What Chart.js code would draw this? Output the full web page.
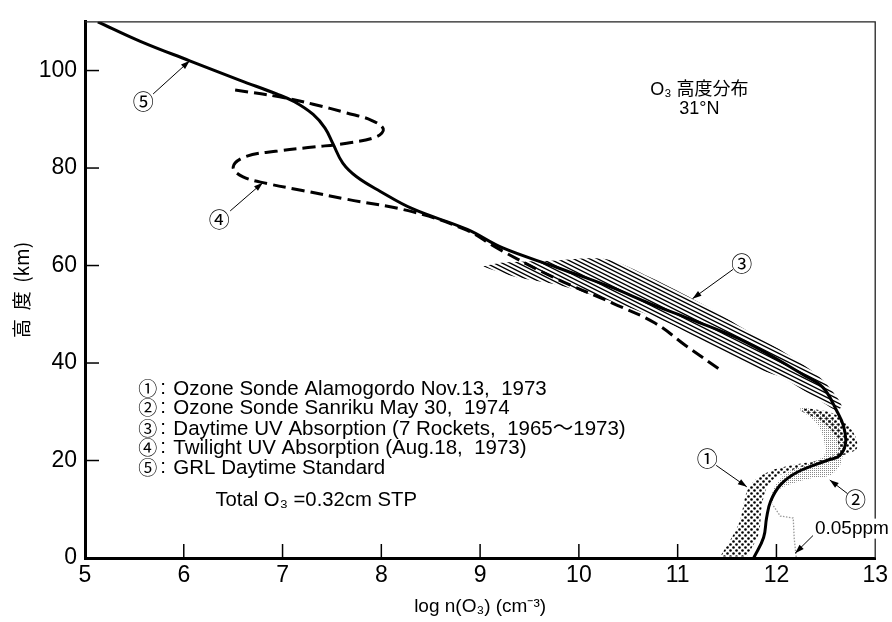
<!DOCTYPE html>
<html>
<head>
<meta charset="utf-8">
<script src="https://cdn.jsdelivr.net/npm/chart.js@4.4.1/dist/chart.umd.min.js"></script>
<style>
  html, body { margin: 0; padding: 0; background: #fff; }
  #wrap { width: 892px; height: 622px; }
</style>
</head>
<body>
<div id="wrap"><canvas id="ozone"></canvas></div>
<script>
const xTicks = [5, 6, 7, 8, 9, 10, 11, 12, 13];
const yTicks = [0, 20, 40, 60, 80, 100];

// [log n(O3), altitude km]
// (5) GRL daytime standard, joined to the mean rocket / sonde profile below
const grlStandard = [[5.13,110],[5.56,106],[6.06,102],[6.57,98],[6.94,95.2],[7.12,93.6],[7.31,91],[7.43,88.2],
  [7.51,85],[7.61,81],[7.75,78.2],[7.99,75.2],[8.32,71.6],[8.87,67.4],[9.23,63.6],[9.78,59.6],[10.32,55.6],
  [10.72,52.2],[11.13,49],[11.7,44.2],[12.27,37.6],[12.47,35],[12.61,30.2],[12.68,27],[12.7,23.6],[12.64,21],
  [12.51,20],[12.21,17.6],[12.04,15],[11.94,11.6],[11.9,8.2],[11.87,4.2],[11.77,0]];

// (4) twilight UV absorption
const twilightUV = [[6.52,96],[6.97,94.6],[7.31,93.1],[7.65,91.3],[7.9,89.8],[8.02,88],[7.95,86.4],[7.65,85.1],
  [7.31,84.3],[6.95,83.5],[6.62,82.3],[6.5,80.2],[6.6,78.2],[6.85,76.8],[7.2,75.4],[7.65,73.6],[8.32,71],
  [8.87,67.2],[9.17,63.6],[9.74,57.6],[10.35,52.2],[10.77,48.2],[11.08,43.6],[11.46,38.2]];

// (3) daytime UV absorption spread, outline of the hatched band
const rocketBand = [[9.03,59.8],[9.23,60.6],[9.71,61],[10.28,61.3],[10.72,57.6],[11.23,52.3],[11.73,46.3],
  [12.07,42.3],[12.41,37.6],[12.54,34.9],[12.66,31.3],[12.61,30.3],[12.44,32.3],[12.07,36.9],[11.8,38.9],
  [11.4,42.9],[10.89,48.3],[10.38,52.3],[9.81,55.9],[9.37,57.6],[9.1,59.3]];

// (1) ozonesonde Alamogordo, outline of the dotted band
const sondeAlamogordo = [[11.43,0.3],[11.53,3.6],[11.63,7.6],[11.7,13.6],[11.8,16.3],[12.0,18.3],[12.31,19.6],
  [12.58,20.6],[12.81,22.3],[12.8,24.9],[12.71,27.6],[12.58,29.6],[12.34,30.6],[12.24,30.3],[12.44,28.3],
  [12.58,25.6],[12.63,22.3],[12.51,20.3],[12.24,18.6],[12.0,16.6],[11.9,14.3],[11.85,10.3],[11.82,4.9],[11.7,0.3]];

// (2) ozonesonde Sanriku, outline of the light stipple and its surface trace
const sondeSanriku = [[11.95,10.9],[12.0,13.6],[12.11,14.9],[12.34,16.3],[12.54,16.9],[12.65,19.3],[12.68,22.9],
  [12.65,26.3],[12.54,28.9],[12.34,30.6],[12.24,30.6],[12.41,27.6],[12.48,24.3],[12.48,20.9],[12.31,19.3],
  [12.11,17.6],[11.99,14.9],[11.94,12.3]];
const sanrikuSurface = [[12.2,0.2],[12.18,4],[12.17,8.2],[12.04,8.6],[11.96,11]];

const legendMarks = ['①', '②', '③', '④', '⑤'];
const legendLines = [
  'Ozone Sonde Alamogordo Nov.13,  1973',
  'Ozone Sonde Sanriku May 30,  1974',
  'Daytime UV Absorption (7 Rockets,  1965～1973)',
  'Twilight UV Absorption (Aug.18,  1973)',
  'GRL Daytime Standard'
];
const legendAt = { x: 5.54, y: [33.5, 29.5, 25.3, 21.3, 17.3] };
const totalText = { text: 'Total O₃ =0.32cm STP', x: 6.32, y: 10.6 };
const titleLines = [{ text: 'O₃ 高度分布', x: 11.22, y: 95 }, { text: '31°N', x: 11.22, y: 91 }];

// circled marks with their arrows: label centre, arrow tail, arrow head
const callouts = [
  { mark: '⑤', at: [5.59, 93.8], tail: [5.69, 95.2], head: [6.06, 102] },
  { mark: '④', at: [6.36, 69.6], tail: [6.47, 71.2], head: [6.8, 77] },
  { mark: '③', at: [11.65, 60.6], tail: [11.56, 59.2], head: [11.15, 53.2] },
  { mark: '①', at: [11.3, 20.6], tail: [11.39, 19], head: [11.7, 14.6] },
  { mark: '②', at: [12.8, 12.2], tail: [12.72, 13.2], head: [12.54, 16] }
];
const ppmNote = { text: '0.05ppm', x: 12.39, y: 5, tail: [12.37, 4.6], head: [12.19, 1] };

const SANS = '"Liberation Sans", "Noto Sans CJK JP", sans-serif';
const CJK = '"Noto Sans CJK JP", sans-serif';

function makePattern(w, h, paint) {
  const c = document.createElement('canvas');
  c.width = w; c.height = h;
  const g = c.getContext('2d');
  paint(g);
  return g.createPattern(c, 'repeat');
}
const hatch = makePattern(24, 12, g => {
  g.strokeStyle = '#000'; g.lineWidth = 1.4;
  for (let k = -4; k <= 4; k++) {
    g.beginPath(); g.moveTo(-2, k * 4 - 1); g.lineTo(26, k * 4 + 13); g.stroke();
  }
});
const dots = makePattern(6, 6, g => {
  g.fillStyle = '#000';
  [[1.5, 1.5], [4.5, 4.5]].forEach(([cx, cy]) => { g.beginPath(); g.arc(cx, cy, 1.3, 0, Math.PI * 2); g.fill(); });
});
const stipple = makePattern(2, 2, g => { g.fillStyle = '#888'; g.fillRect(0, 0, 1, 1); });

const toXY = arr => arr.map(([x, y]) => ({ x, y }));

function arrow(ctx, x0, y0, x1, y1) {
  const ang = Math.atan2(y1 - y0, x1 - x0);
  ctx.beginPath(); ctx.moveTo(x0, y0); ctx.lineTo(x1, y1); ctx.stroke();
  ctx.beginPath();
  ctx.moveTo(x1, y1);
  ctx.lineTo(x1 - 9 * Math.cos(ang) + 3 * Math.sin(ang), y1 - 9 * Math.sin(ang) - 3 * Math.cos(ang));
  ctx.lineTo(x1 - 9 * Math.cos(ang) - 3 * Math.sin(ang), y1 - 9 * Math.sin(ang) + 3 * Math.cos(ang));
  ctx.closePath(); ctx.fill();
}

const annotate = {
  id: 'annotate',
  afterDraw(chart) {
    const { ctx, chartArea: a, scales: { x, y } } = chart;
    const px = v => x.getPixelForValue(v), py = v => y.getPixelForValue(v);
    ctx.save();
    ctx.strokeStyle = '#222'; ctx.lineWidth = 1.3;
    ctx.beginPath(); ctx.moveTo(a.left, a.top); ctx.lineTo(a.right, a.top); ctx.lineTo(a.right, a.bottom); ctx.stroke();

    // ticks point into the plot
    ctx.strokeStyle = '#000'; ctx.lineWidth = 1.5;
    xTicks.slice(1, -1).forEach(v => { ctx.beginPath(); ctx.moveTo(px(v), a.bottom); ctx.lineTo(px(v), a.bottom - 14); ctx.stroke(); });
    yTicks.slice(1).forEach(v => { ctx.beginPath(); ctx.moveTo(a.left, py(v)); ctx.lineTo(a.left + 14, py(v)); ctx.stroke(); });

    // key: circled mark, colon, description
    ctx.fillStyle = '#000';
    ctx.textBaseline = 'alphabetic';
    ctx.textAlign = 'left';
    legendLines.forEach((t, i) => {
      const lx = px(legendAt.x), ly = py(legendAt.y[i]);
      ctx.font = '19px ' + CJK;
      ctx.fillText(legendMarks[i], lx, ly + 1);
      ctx.font = '20.5px ' + SANS;
      ctx.fillText(':', lx + 22, ly - 1);
      ctx.fillText(t, lx + 35, ly);
    });
    ctx.font = '20.3px ' + SANS;
    ctx.fillText(totalText.text, px(totalText.x), py(totalText.y));

    ctx.font = '18px ' + SANS;
    ctx.textAlign = 'center';
    titleLines.forEach(t => ctx.fillText(t.text, px(t.x), py(t.y)));

    ctx.lineWidth = 1;
    ctx.font = '21px ' + CJK;
    ctx.textBaseline = 'middle';
    callouts.forEach(c => {
      ctx.fillText(c.mark, px(c.at[0]), py(c.at[1]));
      arrow(ctx, px(c.tail[0]), py(c.tail[1]), px(c.head[0]), py(c.head[1]));
    });

    ctx.font = '19px ' + SANS;
    ctx.textAlign = 'left';
    ctx.textBaseline = 'alphabetic';
    const w = ctx.measureText(ppmNote.text).width;
    ctx.fillStyle = '#fff';
    ctx.fillRect(px(ppmNote.x) - 1, py(ppmNote.y) - 15, w + 2, 20);
    ctx.fillStyle = '#000';
    ctx.fillText(ppmNote.text, px(ppmNote.x), py(ppmNote.y));
    arrow(ctx, px(ppmNote.tail[0]), py(ppmNote.tail[1]), px(ppmNote.head[0]), py(ppmNote.head[1]));
    ctx.restore();
  }
};

const band = (data, fillStyle, order) => ({
  data: toXY(data), showLine: true, fill: 'shape', backgroundColor: fillStyle,
  borderWidth: 0, borderColor: 'rgba(0,0,0,0)', pointRadius: 0, tension: 0.3, order
});

new Chart(document.getElementById('ozone'), {
  type: 'scatter',
  data: {
    datasets: [
      { data: toXY(grlStandard), showLine: true, borderColor: '#000', borderWidth: 3, pointRadius: 0, tension: 0.4, order: 0 },
      { data: toXY(twilightUV), showLine: true, borderColor: '#000', borderWidth: 3, borderDash: [13, 6], pointRadius: 0, tension: 0.4, order: 0 },
      { data: toXY(sanrikuSurface), showLine: true, borderColor: '#999', borderWidth: 1.3, borderDash: [1.5, 1.5], pointRadius: 0, tension: 0, order: 1 },
      band(rocketBand, hatch, 2),
      band(sondeAlamogordo, dots, 2),
      band(sondeSanriku, stipple, 3)
    ]
  },
  options: {
    responsive: true,
    maintainAspectRatio: false,
    animation: false,
    events: [],
    layout: { padding: { top: 8, right: 16, left: 0, bottom: 0 } },
    plugins: { legend: { display: false }, tooltip: { enabled: false } },
    scales: {
      x: {
        type: 'linear', min: 5, max: 13,
        afterBuildTicks: s => { s.ticks = xTicks.map(v => ({ value: v })); },
        afterFit: s => { s.height = 64; },
        grid: { display: false, drawTicks: false },
        border: { display: true, color: '#000', width: 3 },
        ticks: { color: '#000', font: { family: SANS, size: 23 }, padding: 4, maxRotation: 0 },
        title: { display: true, text: 'log n(O₃) (cm⁻³)', color: '#000', font: { family: SANS, size: 19 }, padding: { top: 0, bottom: 4 } }
      },
      y: {
        type: 'linear', min: 0, max: 110,
        afterBuildTicks: s => { s.ticks = yTicks.map(v => ({ value: v })); },
        afterFit: s => { s.width = 85; },
        grid: { display: false, drawTicks: false },
        border: { display: true, color: '#000', width: 3 },
        ticks: { color: '#000', font: { family: SANS, size: 23 }, padding: 8 },
        title: { display: true, text: '高  度  (km)', color: '#000', font: { family: CJK, size: 19 }, padding: { top: 10, bottom: 0 } }
      }
    }
  },
  plugins: [annotate]
});
</script>
</body>
</html>
